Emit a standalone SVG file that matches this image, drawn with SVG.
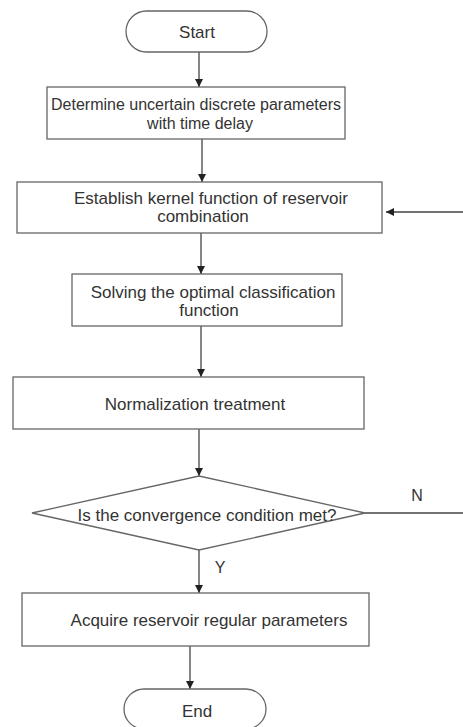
<svg xmlns="http://www.w3.org/2000/svg" width="463" height="727" viewBox="0 0 463 727">
<style>
.box{fill:#fff;stroke:#666;stroke-width:1.3}
.txt{font-family:"Liberation Sans",Arial,sans-serif;font-size:17px;fill:#333;text-anchor:middle;dominant-baseline:central}
.sm{font-size:16px}
.lbl{font-family:"Liberation Sans",Arial,sans-serif;font-size:16px;fill:#333;text-anchor:middle;dominant-baseline:central}
.con{fill:none;stroke:#444;stroke-width:1.3}
</style>
<defs>
<marker id="arr" viewBox="0 0 10 10" refX="10" refY="5" markerUnits="userSpaceOnUse" markerWidth="9" markerHeight="8" orient="auto">
<path d="M0,0 L10,5 L0,10 z" fill="#222"/>
</marker>
</defs>
<rect width="463" height="727" fill="#fff"/>
<g id="connectors">
<path class="con" d="M199,52 V87" marker-end="url(#arr)"/>
<path class="con" d="M202,139 V182" marker-end="url(#arr)"/>
<path class="con" d="M201,233 V274" marker-end="url(#arr)"/>
<path class="con" d="M201,326 V377" marker-end="url(#arr)"/>
<path class="con" d="M199,429 V476" marker-end="url(#arr)"/>
<path class="con" d="M199,550 V593" marker-end="url(#arr)"/>
<path class="con" d="M190,646 V689" marker-end="url(#arr)"/>
<path class="con" d="M365,513 H464.5 V212 H386" marker-end="url(#arr)"/>
<text class="lbl" x="417" y="495">N</text>
<text class="lbl" x="220" y="567">Y</text>
</g>
<g id="start">
<rect class="box" x="126" y="11" width="141" height="41" rx="20.5"/>
<text class="txt" x="197" y="32">Start</text>
</g>
<g id="determine">
<rect class="box" x="47" y="87" width="298" height="52"/>
<text class="txt sm" x="196" y="104">Determine uncertain discrete parameters</text>
<text class="txt sm" x="200" y="123">with time delay</text>
</g>
<g id="establish">
<rect class="box" x="17" y="182" width="365" height="51"/>
<text class="txt" x="211" y="198">Establish kernel function of reservoir</text>
<text class="txt" x="203" y="216">combination</text>
</g>
<g id="solving">
<rect class="box" x="72" y="274" width="270" height="52"/>
<text class="txt" x="213" y="292">Solving the optimal classification</text>
<text class="txt" x="209" y="310">function</text>
</g>
<g id="normalization">
<rect class="box" x="13" y="377" width="351" height="52"/>
<text class="txt" x="195" y="404">Normalization treatment</text>
</g>
<g id="decision">
<polygon class="box" points="199,476 365,513 199,550 32,513"/>
<text class="txt" x="207" y="515">Is the convergence condition met?</text>
</g>
<g id="acquire">
<rect class="box" x="22" y="593" width="347" height="53"/>
<text class="txt" x="209" y="620">Acquire reservoir regular parameters</text>
</g>
<g id="end">
<rect class="box" x="124" y="689" width="142" height="40" rx="20"/>
<text class="txt" x="197" y="711">End</text>
</g>
</svg>
